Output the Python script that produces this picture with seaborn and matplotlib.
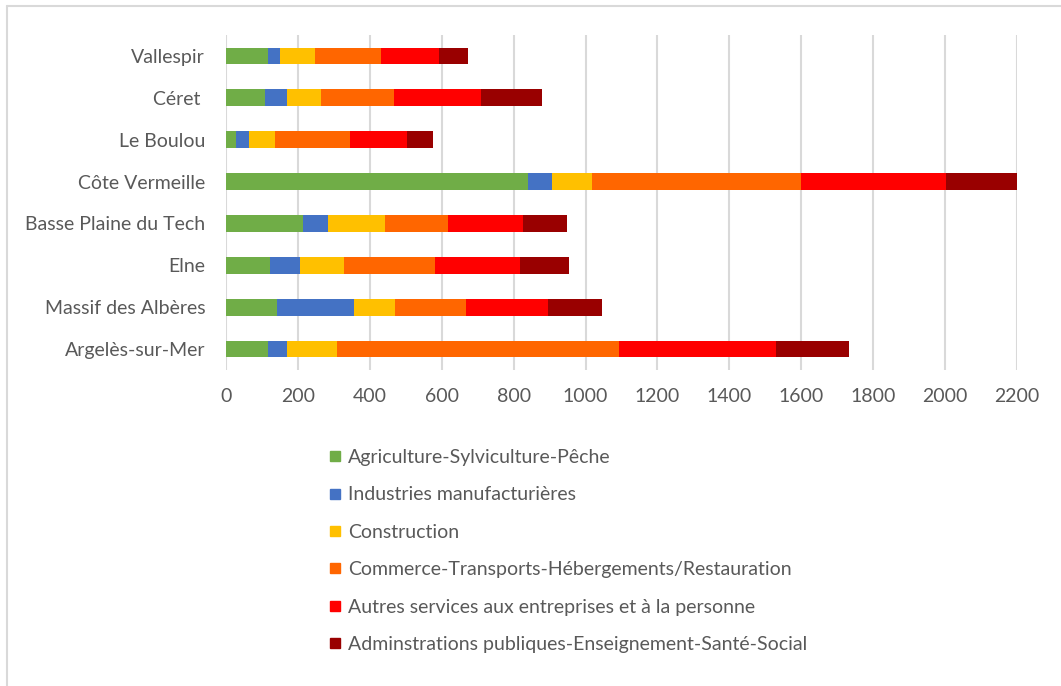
import numpy as np
import pandas as pd
import matplotlib
matplotlib.use("Agg")
import matplotlib.pyplot as plt
from matplotlib.lines import Line2D
import seaborn as sns

# Territories, listed top to bottom
territoires = ["Vallespir", "Céret ", "Le Boulou", "Côte Vermeille",
               "Basse Plaine du Tech", "Elne", "Massif des Albères",
               "Argelès-sur-Mer"]

# Establishments per sector
agriculture = [118, 109, 28, 840, 214, 123, 143, 118]
industrie = [32, 60, 37, 68, 69, 82, 214, 51]
construction = [98, 95, 71, 111, 159, 123, 112, 139]
commerce = [183, 204, 209, 580, 175, 253, 198, 785]
autres_services = [162, 240, 158, 403, 209, 237, 228, 437]
administrations = [79, 171, 74, 200, 122, 137, 152, 204]

secteurs = ["Agriculture-Sylviculture-Pêche",
            "Industries manufacturières",
            "Construction",
            "Commerce-Transports-Hébergements/Restauration",
            "Autres services aux entreprises et à la personne",
            "Adminstrations publiques-Enseignement-Santé-Social"]
couleurs = ["#70AD47", "#4472C4", "#FFC000", "#FF6600", "#FF0000", "#990000"]

x_ticks = [0, 200, 400, 600, 800, 1000, 1200, 1400, 1600, 1800, 2000, 2200]

series = [agriculture, industrie, construction, commerce,
          autres_services, administrations]
df = pd.DataFrame(dict(zip(secteurs, series)), index=territoires)
cumul = df.cumsum(axis=1)

sns.set_theme(style="white")
plt.rcParams["font.family"] = ["Lato", "DejaVu Sans"]
text_color = "#595959"
grid_color = "#D9D9D9"
fs = 14

W, H = 1061, 686
fig = plt.figure(figsize=(W / 100, H / 100), dpi=100)
ax = fig.add_axes([226 / W, 1 - 370 / H, (1017 - 226) / W, (370 - 35) / H])

# Stacked bars: draw cumulative totals from the outermost sector inwards
for secteur, couleur in reversed(list(zip(secteurs, couleurs))):
    d = pd.DataFrame({"territoire": territoires, "valeur": cumul[secteur].values})
    sns.barplot(data=d, y="territoire", x="valeur", orient="h", color=couleur,
                saturation=1, width=0.4, linewidth=0, ax=ax, zorder=2)

ax.set_xlim(0, 2200)
ax.set_xticks(x_ticks)
ax.set_xticklabels([str(t) for t in x_ticks])
ax.set_xlabel("")
ax.set_ylabel("")
ax.xaxis.grid(True, color=grid_color, linewidth=1.5, zorder=0)
ax.yaxis.grid(False)
ax.set_axisbelow(True)
for s in ax.spines.values():
    s.set_visible(False)
ax.tick_params(axis="both", length=0, labelsize=fs, colors=text_color)
ax.tick_params(axis="x", pad=13)
ax.tick_params(axis="y", pad=15)

handles = [Line2D([], [], marker="s", linestyle="none", markersize=7.5,
                  markerfacecolor=c, markeredgecolor=c) for c in couleurs]
fig.legend(handles, secteurs, loc="upper left",
           bbox_to_anchor=(327 / W, 1 - 449 / H), frameon=False,
           fontsize=fs, labelcolor=text_color, labelspacing=1.05,
           handlelength=0.8, handletextpad=0.3, borderpad=0,
           borderaxespad=0)

# Light frame along the top and left edges
fig.add_artist(Line2D([7 / W, 1], [1 - 6 / H, 1 - 6 / H], color=grid_color,
                      linewidth=1.5, transform=fig.transFigure))
fig.add_artist(Line2D([7 / W, 7 / W], [0, 1 - 6 / H], color=grid_color,
                      linewidth=1.5, transform=fig.transFigure))

fig.savefig("out.png", dpi=100, facecolor="white")
